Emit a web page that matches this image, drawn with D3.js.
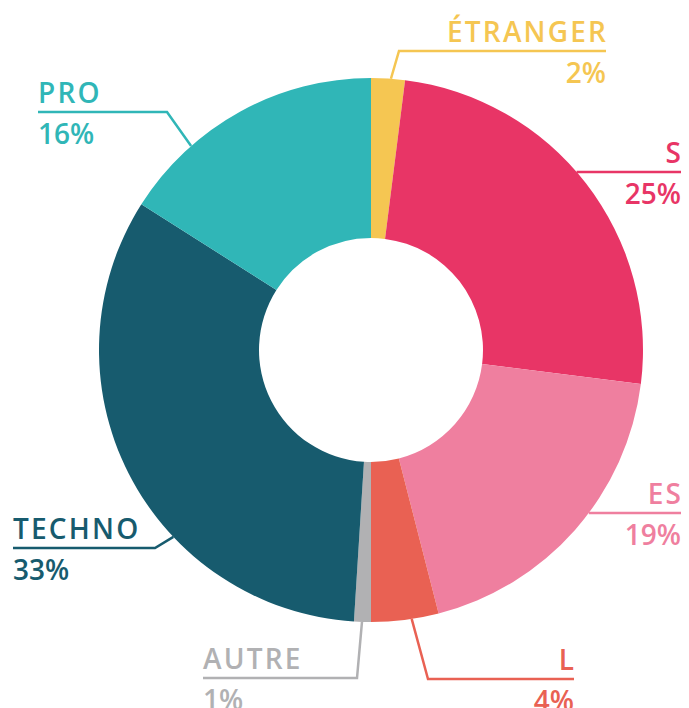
<!DOCTYPE html>
<html>
<head>
<meta charset="utf-8">
<script src="https://cdn.jsdelivr.net/npm/d3@7"></script>
<style>
    html, body { margin: 0; padding: 0; background: #fff; }
    svg { display: block; }
    .label { font-family: 'Open Sans', sans-serif; font-weight: 600; font-size: 28px; }
    .label.name { letter-spacing: 2.2px; }
</style>
</head>
<body>
<div id="chart"></div>
<script>
var categories = ['ÉTRANGER', 'S', 'ES', 'L', 'AUTRE', 'TECHNO', 'PRO'];
var values = [2, 25, 19, 4, 1, 33, 16];
var colours = ['#f5c652', '#e83566', '#ef7f9f', '#e96153', '#b1b1b3', '#175b6e', '#30b6b7'];

// label placement: anchor angle on the ring (deg), elbow point, end of the rule
var labelLayout = [
    { angle: 4.2, elbow: [399, 51], end: 606, align: 'end' },
    { angle: 49.1, elbow: null, end: 681, align: 'end' },
    { angle: 126.8, elbow: null, end: 681, align: 'end' },
    { angle: 171.4, elbow: [428, 679], end: 574, align: 'end' },
    { angle: 181.9, elbow: [357, 678], end: 203, align: 'start' },
    { angle: 226.6, elbow: [155, 548], end: 13, align: 'start' },
    { angle: 318.6, elbow: [167, 112], end: 38, align: 'start' }
];

var width = 689, height = 708;
var cx = 371, cy = 350, outerR = 272, innerR = 112;
var spacing = 2.2;

var svg = d3.select('#chart')
    .append('svg')
    .attr('width', width)
    .attr('height', height);

var data = categories.map(function(c, i) {
    return { name: c, value: values[i], colour: colours[i], layout: labelLayout[i] };
});

var pie = d3.pie()
    .sort(null)
    .value(function(d) { return d.value; });

var arc = d3.arc()
    .innerRadius(innerR)
    .outerRadius(outerR);

var g = svg.append('g')
    .attr('transform', 'translate(' + cx + ',' + cy + ')');

g.selectAll('path')
    .data(pie(data))
    .enter()
    .append('path')
    .attr('d', arc)
    .attr('fill', function(d) { return d.data.colour; });

function ringPoint(deg) {
    var a = deg * Math.PI / 180;
    return [cx + outerR * Math.sin(a), cy - outerR * Math.cos(a)];
}

var labels = svg.append('g');

data.forEach(function(d) {
    var l = d.layout;
    var p0 = ringPoint(l.angle);
    var elbow = l.elbow || p0;
    var pts = [p0, elbow, [l.end, elbow[1]]];

    labels.append('path')
        .attr('d', d3.line()(pts))
        .attr('fill', 'none')
        .attr('stroke', d.colour)
        .attr('stroke-width', 2.5);

    var ruleY = elbow[1];

    labels.append('text')
        .classed('label name', true)
        .attr('x', l.end)
        // trailing letter-spacing pushes right-aligned text left, so undo it
        .attr('dx', l.align === 'end' ? spacing : 0)
        .attr('y', ruleY - 9)
        .attr('text-anchor', l.align)
        .attr('fill', d.colour)
        .text(d.name);

    labels.append('text')
        .classed('label', true)
        .attr('x', l.end)
        .attr('y', ruleY + 32)
        .attr('text-anchor', l.align)
        .attr('fill', d.colour)
        .text(d.value + '%');
});
</script>
</body>
</html>
